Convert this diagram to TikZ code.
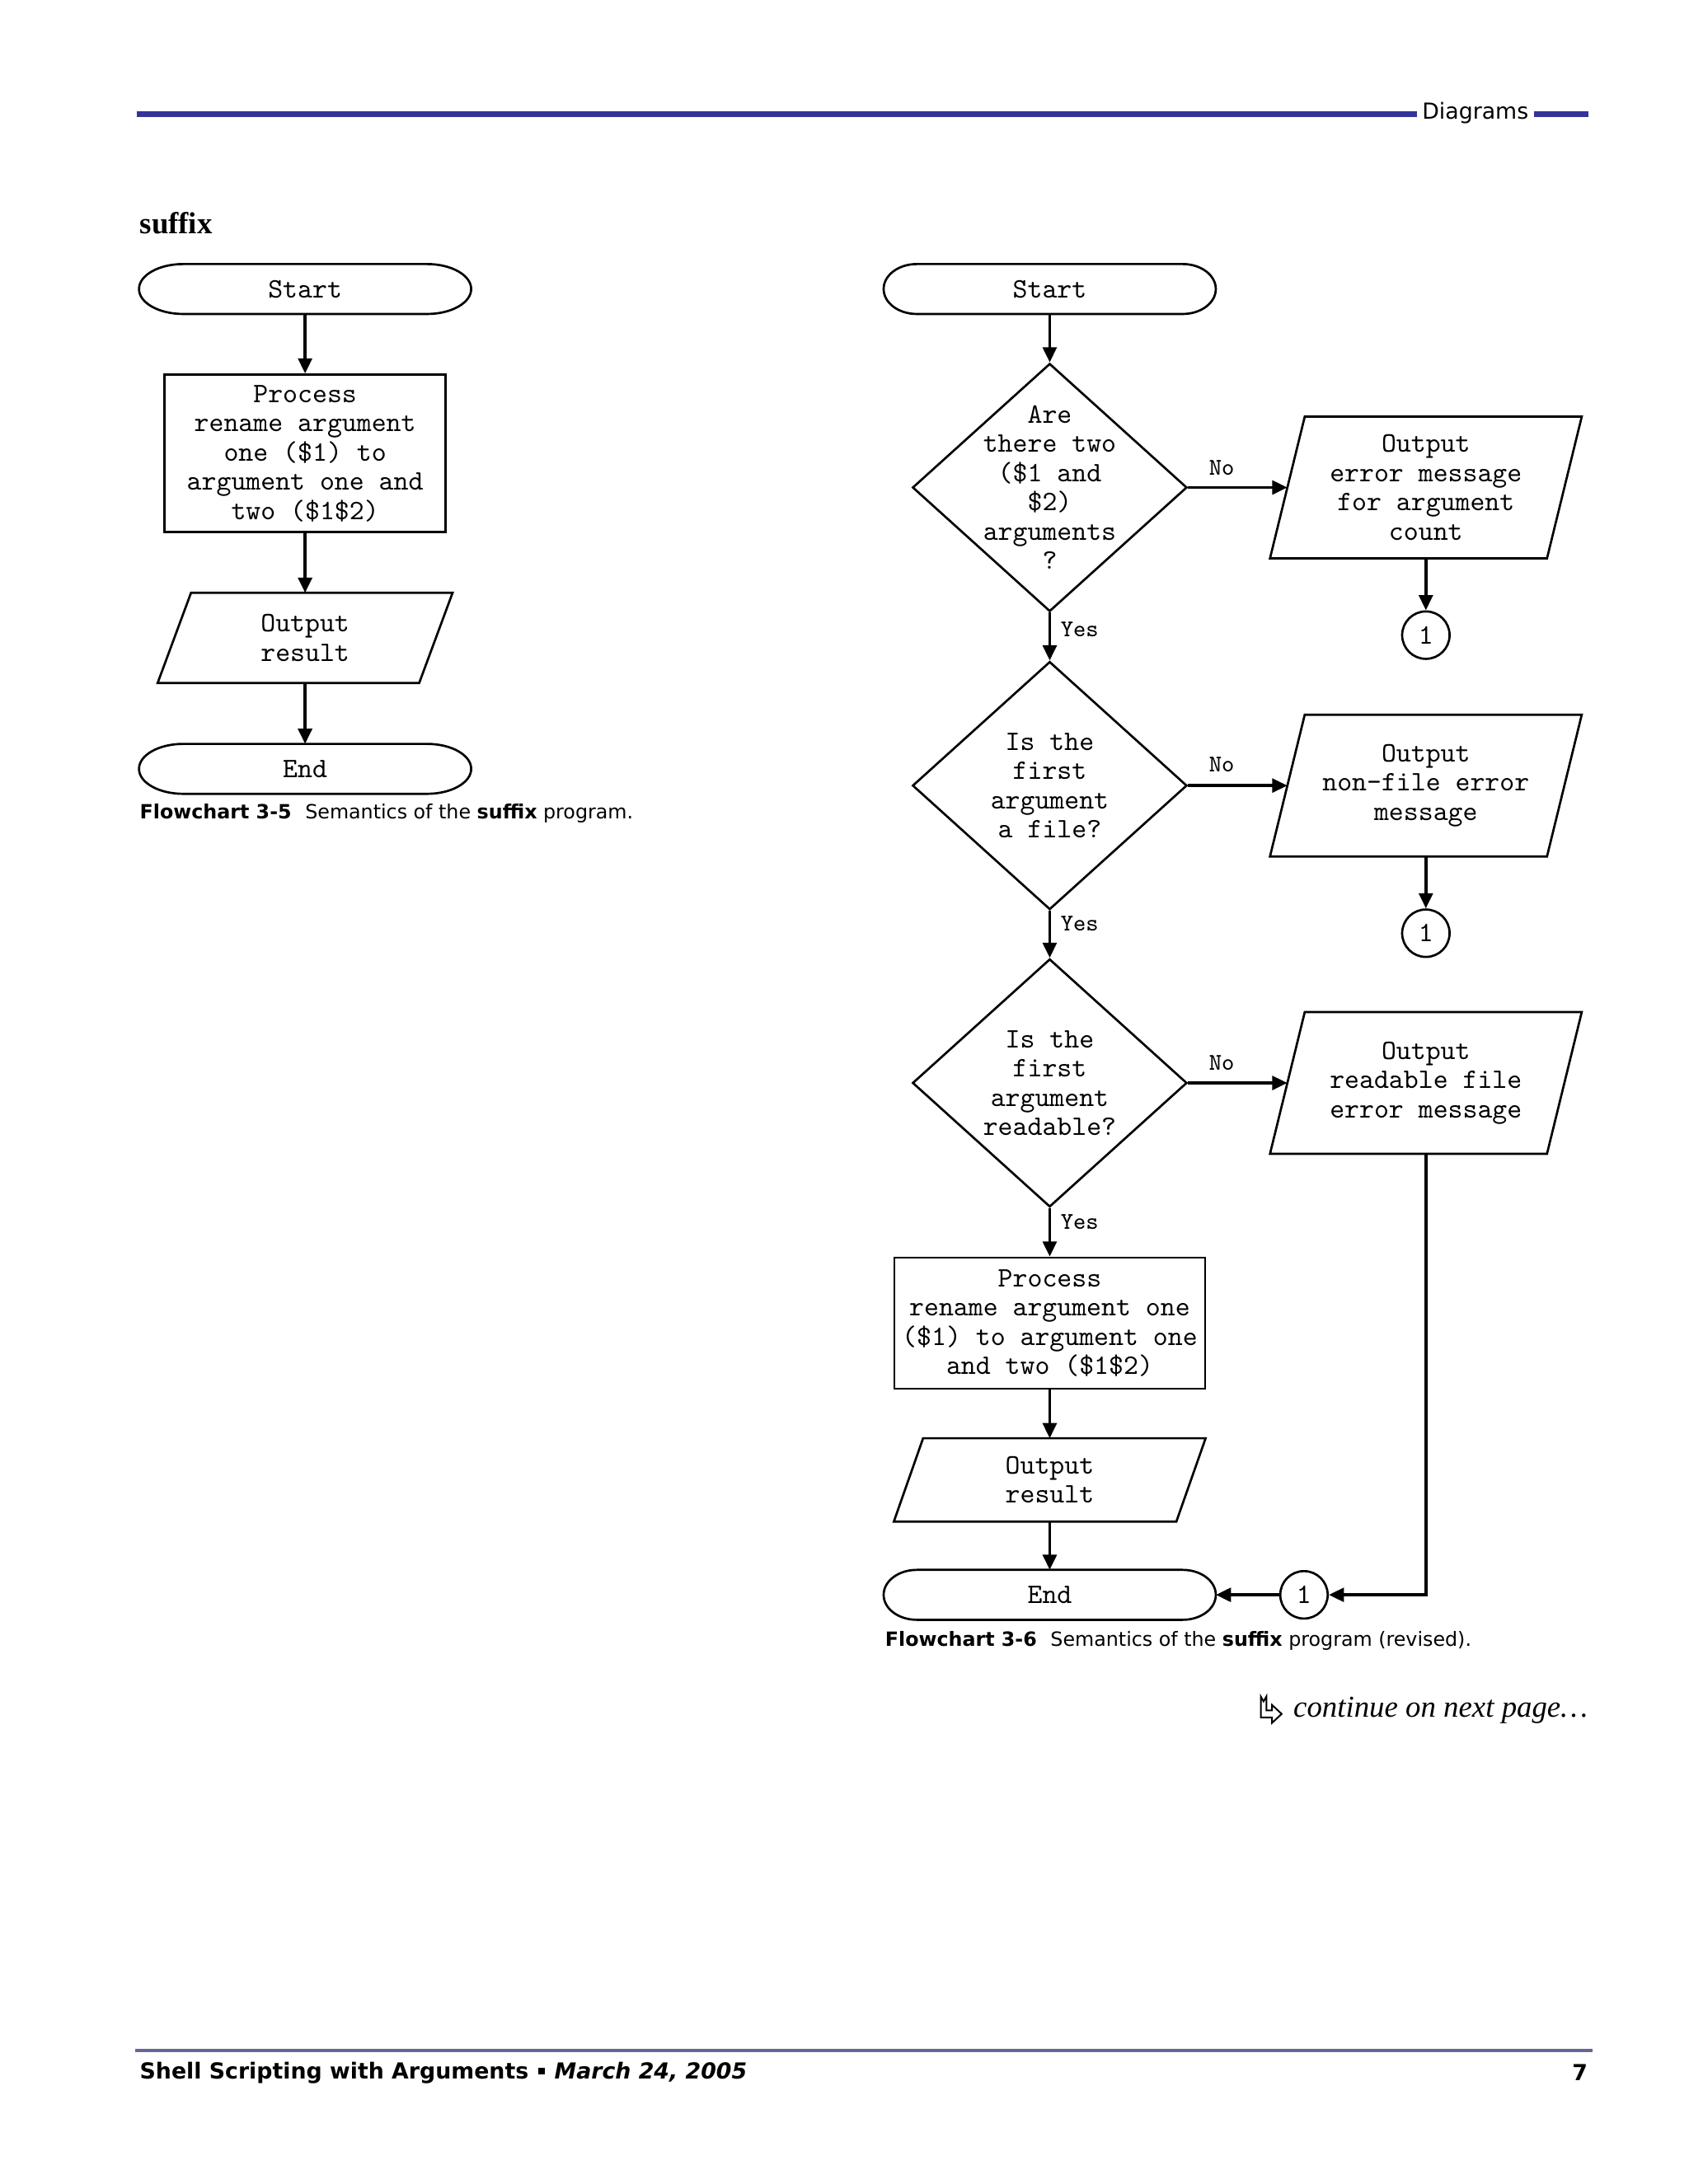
\documentclass[tikz,border=0pt]{standalone}
\usepackage{fontspec}
\setmainfont{Liberation Serif}
\newfontfamily\vsans{DejaVu Sans}
\usetikzlibrary{shapes.geometric,arrows.meta,calc}
\definecolor{hdrblue}{RGB}{51,51,153}
\definecolor{ftrblue}{RGB}{102,102,153}
\newcommand{\chartf}{\ttfamily\fontsize{10.2pt}{10.6pt}\selectfont}
\newcommand{\lblf}{\ttfamily\fontsize{8.7pt}{9pt}\selectfont}
\newcommand{\capf}{\vsans\fontsize{7.1pt}{8.4pt}\selectfont}
\newcommand{\ftrf}{\vsans\bfseries\fontsize{8pt}{9.6pt}\selectfont}
\newcommand{\termshape}[2]{%
  \draw[shp] let \p1=(#1.north west), \p2=(#1.south east), \n1={(\y1-\y2)/2} in
    (\x1+#2,\y1) -- (\x2-#2,\y1)
    arc[start angle=90, end angle=-90, x radius=#2, y radius=\n1*1pt]
    -- (\x1+#2,\y2)
    arc[start angle=270, end angle=90, x radius=#2, y radius=\n1*1pt] -- cycle;}
\newcommand{\pgram}[2]{%
  \draw[shp] ($(#1.north west)+(#2,0)$) -- (#1.north east)
    -- ($(#1.south east)-(#2,0)$) -- (#1.south west) -- cycle;}
\begin{document}
\begin{tikzpicture}[x=0.50495pt, y=-0.50495pt,
  shp/.style={line width=0.8pt, line join=miter},
  arr/.style={line width=1.1pt, -{Triangle[length=5.5pt,width=5pt]}},
  termbox/.style={rectangle, inner sep=0pt, minimum width=120pt, minimum height=17.7pt, font=\chartf},
  procbox/.style={rectangle, draw, line width=0.8pt, inner sep=0pt, align=center, font=\chartf},
  iobox/.style={rectangle, inner sep=0pt, align=center, font=\chartf},
  decbox/.style={diamond, draw, line width=0.8pt, inner sep=0pt, minimum width=99.5pt, minimum height=89.9pt},
  dectext/.style={align=center, font=\chartf, inner sep=0pt},
  connbox/.style={circle, draw, line width=0.8pt, minimum size=17.2pt, inner sep=0pt, font=\chartf},
  lbl/.style={font=\lblf, inner sep=0pt},
  captxt/.style={font=\capf, anchor=west, inner sep=0pt}]
\useasboundingbox (0,0) rectangle (1212,1568);

% header
\draw[hdrblue, line width=2pt] (98,82) -- (1140,82);
\node[fill=white, inner xsep=2pt, inner ysep=1pt, font=\vsans\fontsize{8pt}{9.6pt}\selectfont] (hdr) at (1059,81) {Diagrams};
\node[anchor=west, inner sep=0pt, font=\bfseries\fontsize{11pt}{13pt}\selectfont] (ttl) at (100,160) {suffix};

% ---------- left flowchart ----------
\node[termbox] (ls) at (219,207.5) {Start};
\termshape{ls}{16pt}
\node[procbox, minimum width=102pt, minimum height=57.1pt] (lp) at (219,325.5)
  {Process\\rename argument\\one (\$1) to\\argument one and\\two (\$1\$2)};
\node[iobox, minimum width=106.5pt, minimum height=32.3pt] (lo) at (219,458) {Output\\result};
\pgram{lo}{12.1pt}
\node[termbox] (le) at (219,552) {End};
\termshape{le}{16pt}
\draw[arr] (ls.south) -- (lp.north);
\draw[arr] (lp.south) -- (lo.north);
\draw[arr] (lo.south) -- (le.north);
\node[captxt] (cap1) at (100,584) {\textbf{Flowchart 3-5}\hspace{0.7em}Semantics of the \textbf{suffix} program.};

% ---------- right flowchart ----------
\node[termbox] (rs) at (753.5,207.5) {Start};
\termshape{rs}{12pt}

\node[decbox] (d1) at (753.5,350) {};
\node[dectext] (d1t) at (d1.center) {Are\\there two\\(\$1 and\\\$2)\\arguments\\?};
\node[iobox, minimum width=112.6pt, minimum height=51pt] (o1) at (1023.5,350)
  {Output\\error message\\for argument\\count};
\pgram{o1}{12.6pt}
\node[connbox] (c1) at (1023.5,456) {1};

\node[decbox] (d2) at (753.5,564) {};
\node[dectext] (d2t) at (d2.center) {Is the\\first\\argument\\a file?};
\node[iobox, minimum width=112.6pt, minimum height=51pt] (o2) at (1023.5,564)
  {Output\\non-file error\\message};
\pgram{o2}{12.6pt}
\node[connbox] (c2) at (1023.5,670) {1};

\node[decbox] (d3) at (753.5,777.5) {};
\node[dectext] (d3t) at (d3.center) {Is the\\first\\argument\\readable?};
\node[iobox, minimum width=112.6pt, minimum height=51pt] (o3) at (1023.5,777.5)
  {Output\\readable file\\error message};
\pgram{o3}{12.6pt}

\node[procbox, minimum width=112.6pt, minimum height=47.5pt] (rp) at (753.5,950)
  {Process\\rename argument one\\(\$1) to argument one\\and two (\$1\$2)};
\node[iobox, minimum width=112.6pt, minimum height=29.8pt] (ro) at (753.5,1062.5) {Output\\result};
\pgram{ro}{10.6pt}
\node[termbox] (re) at (753.5,1145) {End};
\termshape{re}{12pt}
\node[connbox] (c3) at (936,1145) {1};

\draw[arr] (rs.south) -- (d1.north);
\draw[arr] (d1.east) -- ($(o1.west)+(6.3pt,0)$);
\draw[arr] (o1.south) -- (c1.north);
\draw[arr] (d1.south) -- (d2.north);
\draw[arr] (d2.east) -- ($(o2.west)+(6.3pt,0)$);
\draw[arr] (o2.south) -- (c2.north);
\draw[arr] (d2.south) -- (d3.north);
\draw[arr] (d3.east) -- ($(o3.west)+(6.3pt,0)$);
\draw[arr] (d3.south) -- (rp.north);
\draw[arr] (rp.south) -- (ro.north);
\draw[arr] (ro.south) -- (re.north);
\draw[arr] (o3.south) |- (c3.east);
\draw[arr] (c3.west) -- (re.east);

\node[lbl] (no1) at (877,336) {No};
\node[lbl] (no2) at (877,549) {No};
\node[lbl] (no3) at (877,763) {No};
\node[lbl] (ye1) at (775,452) {Yes};
\node[lbl] (ye2) at (775,663) {Yes};
\node[lbl] (ye3) at (775,877) {Yes};

\node[captxt] (cap2) at (635,1178) {\textbf{Flowchart 3-6}\hspace{0.7em}Semantics of the \textbf{suffix} program (revised).};

% continue
\node[anchor=east, inner sep=0pt, font=\itshape\fontsize{11pt}{13pt}\selectfont] (cont) at (1140,1228) {continue on next page\ldots};
\draw[line width=0.6pt, line join=miter] (905,1218) -- (907,1221.5) -- (909,1218) -- (909,1228) -- (913,1228)
  -- (913,1224) -- (920,1230.5) -- (913,1237) -- (913,1233) -- (905,1233) -- cycle;

% footer
\draw[ftrblue, line width=1.2pt] (97,1472) -- (1143,1472);
\node[anchor=west, inner sep=0pt, font=\ftrf] (ft) at (100,1488) {Shell Scripting with Arguments\hspace{0.45em}\rule[1.6pt]{2.2pt}{2.2pt}\hspace{0.45em}\textit{March 24, 2005}};
\node[anchor=east, inner sep=0pt, font=\ftrf] (pg) at (1140,1488) {7};
\end{tikzpicture}
\end{document}
